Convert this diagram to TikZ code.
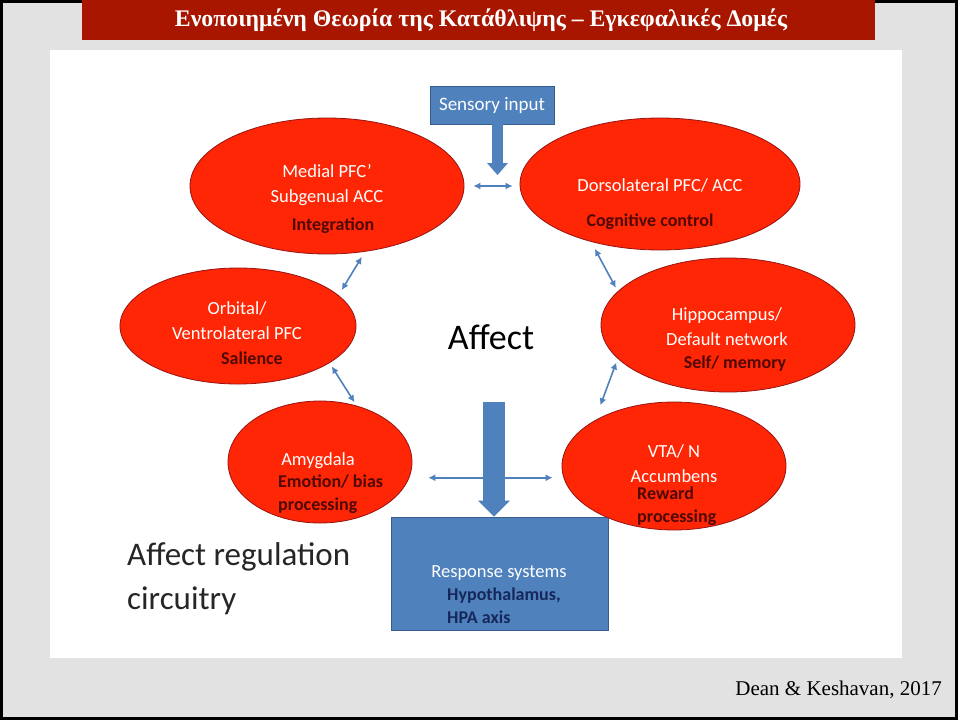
\documentclass[tikz,border=0pt]{standalone}
\usepackage{fontspec}
\setmainfont{Liberation Serif}
\setsansfont{Carlito}
\usetikzlibrary{shapes.geometric,arrows.meta,positioning}

\definecolor{slidegray}{RGB}{226,226,226}
\definecolor{barred}{RGB}{168,22,0}
\definecolor{lobered}{RGB}{254,38,4}
\definecolor{lobeedge}{RGB}{150,20,20}
\definecolor{boxblue}{RGB}{79,129,189}
\definecolor{boxedge}{RGB}{56,93,138}
\definecolor{darklab}{RGB}{80,8,4}
\definecolor{navylab}{RGB}{22,40,90}

\begin{document}
\begin{tikzpicture}[
  x=1pt, y=-1pt,
  lobe/.style={ellipse, draw=lobeedge, line width=0.8pt, fill=lobered, inner sep=0pt},
  sysbox/.style={rectangle, draw=boxedge, line width=0.8pt, fill=boxblue, inner sep=0pt},
  wtxt/.style={text=white, font=\sffamily\fontsize{18.5}{25}\selectfont, align=center, inner sep=0pt},
  dtxt/.style={text=darklab, font=\sffamily\bfseries\fontsize{18}{23}\selectfont, align=left, inner sep=0pt},
  link/.style={draw=boxblue, line width=1.6pt, {Latex[length=7pt,width=7pt]}-{Latex[length=7pt,width=7pt]}, shorten <=4pt, shorten >=4pt},
  fatarrow/.style={draw=boxblue, line width=11pt, -{Triangle[width=21pt,length=12pt,line width=0pt]}},
  bigarrow/.style={draw=boxblue, line width=22pt, -{Triangle[width=32pt,length=16pt,line width=0pt]}}
]
% slide background
\fill[slidegray] (0,0) rectangle (958,720);
\fill[white] (50,50) rectangle (902,658);
\draw[black, line width=3pt] (1.5,1.5) rectangle (956.5,718.5);
\fill[barred] (82,0) rectangle (875,40);
\node[text=white, font=\bfseries\fontsize{23.8}{26}\selectfont] (title) at (481,20) {Ενοποιημένη Θεωρία της Κατάθλιψης – Εγκεφαλικές Δομές};

% input and output boxes
\node[sysbox, minimum width=124pt, minimum height=38pt, text=white, font=\sffamily\fontsize{19}{22}\selectfont] (sens) at (492,105) {Sensory input};
\node[sysbox, minimum width=217pt, minimum height=113pt] (resp) at (499.5,573.5) {};

% brain regions
\node[lobe, minimum width=274pt, minimum height=136pt] (med) at (327,186) {};
\node[lobe, minimum width=280pt, minimum height=132pt] (dlp) at (660,184) {};
\node[lobe, minimum width=236pt, minimum height=116pt] (orb) at (238,326) {};
\node[lobe, minimum width=254pt, minimum height=134pt] (hip) at (728,325) {};
\node[lobe, minimum width=184pt, minimum height=122pt] (amy) at (320,462) {};
\node[lobe, minimum width=224pt, minimum height=128pt] (vta) at (674,466) {};

% labels
\node[wtxt] (medt) at (327,185) {Medial PFC’\\Subgenual ACC};
\node[dtxt] (medf) at (333,226) {Integration};
\node[wtxt] (dlpt) at (660,185) {Dorsolateral PFC/ ACC};
\node[dtxt] (dlpf) at (650,222) {Cognitive control};
\node[wtxt] (orbt) at (237,321) {Orbital/\\Ventrolateral PFC};
\node[dtxt] (orbf) at (252,358) {Salience};
\node[wtxt] (hipt) at (727,327) {Hippocampus/\\Default network};
\node[dtxt] (hipf) at (735,364) {Self/ memory};
\node[wtxt] (amyt) at (318,461) {Amygdala};
\node[dtxt, anchor=west] (amyf) at (278,494) {Emotion/ bias\\processing};
\node[wtxt] (vtat) at (674,464) {VTA/ N\\Accumbens};
\node[dtxt, anchor=west] (vtaf) at (637,506) {Reward\\processing};
\node[wtxt] (respt) at (499,573) {Response systems};
\node[dtxt, text=navylab, anchor=west] (respf) at (447,605.5) {Hypothalamus,\\HPA axis};

\node[font=\sffamily\fontsize{36}{40}\selectfont, inner sep=0pt] (affect) at (491,337) {Affect};
\node[font=\sffamily\fontsize{33}{44}\selectfont, text=black!85, align=left, anchor=west, inner sep=0pt] (circ) at (127,579) {Affect regulation\\circuitry};
\node[font=\fontsize{21}{24}\selectfont, anchor=east, inner sep=0pt] (cite) at (942,690) {Dean \& Keshavan, 2017};

% connectors
\coordinate (sensin) at (497.5,175);
\coordinate (afftail) at (494,402);
\draw[fatarrow] (sens.south -| sensin) -- (sensin);
\draw[bigarrow] (afftail) -- (afftail |- resp.north);
\draw[link, shorten <=9pt, shorten >=7pt] (med.east) -- (med.east -| dlp.west);
\draw[link, shorten <=6pt, shorten >=6pt] (med.-60) -- (orb.17);
\draw[link] (orb.-22) -- (amy.57);
\draw[link, shorten <=8pt] (dlp.-140) -- (hip.163);
\draw[link, shorten >=16pt] (hip.-163) -- (vta.150);
\draw[link, shorten <=19pt, shorten >=9pt] (amy.-10) -- (amy.-10 -| vta.west);
\end{tikzpicture}
\end{document}
